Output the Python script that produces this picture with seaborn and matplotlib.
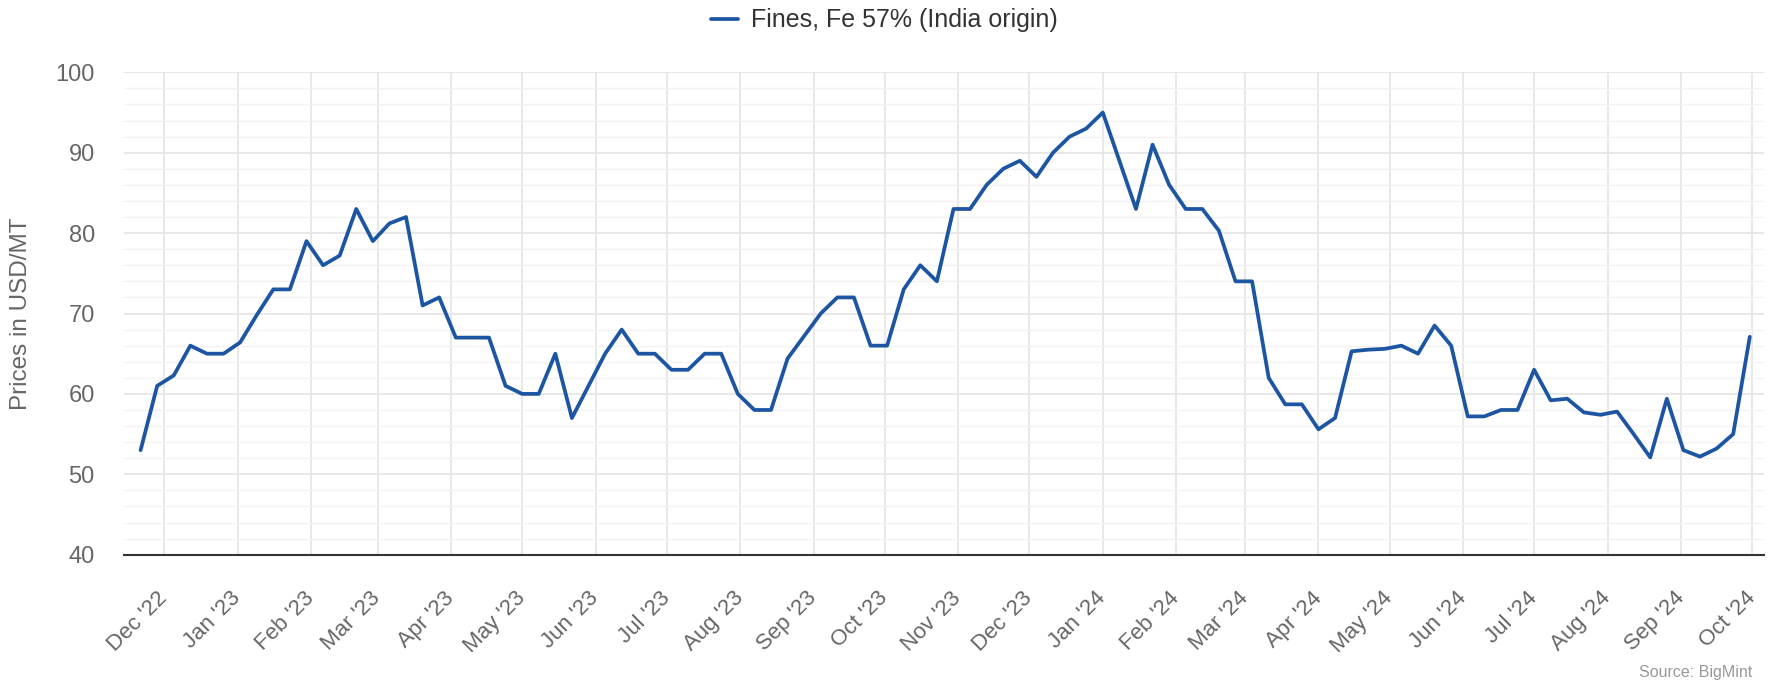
import pandas as pd
import seaborn as sns
import matplotlib.pyplot as plt
import matplotlib.dates as mdates
from matplotlib.ticker import MultipleLocator

# ─────────────────────────────────────────
# DATA  (weekly prices, USD/MT)
# ─────────────────────────────────────────
SERIES_NAME = "Fines, Fe 57% (India origin)"
FIRST_WEEK  = "2022-11-21"

prices = [
    53, 61, 62.3, 66, 65, 65, 66.4, 69.8, 73, 73,
    79, 76, 77.2, 83, 79, 81.2, 82, 71, 72, 67,
    67, 67, 61, 60, 60, 65, 57, 61, 65, 68,
    65, 65, 63, 63, 65, 65, 60, 58, 58, 64.4,
    67.2, 70, 72, 72, 66, 66, 73, 76, 74, 83,
    83, 86, 88, 89, 87, 90, 92, 93, 95, 89,
    83, 91, 86, 83, 83, 80.3, 74, 74, 62, 58.7,
    58.7, 55.6, 57, 65.3, 65.5, 65.6, 66, 65, 68.5, 66,
    57.2, 57.2, 58, 58, 63, 59.2, 59.4, 57.7, 57.4, 57.8,
    55, 52.1, 59.4, 53, 52.2, 53.2, 55, 67.1,
]
week_dates = pd.date_range(FIRST_WEEK, periods=len(prices), freq="7D")

y_major = [40, 50, 60, 70, 80, 90, 100]
x_range = ("2022-11-14", "2024-10-06")

LINE_COLOR = "#1c56a3"

# ─────────────────────────────────────────
# PLOT
# ─────────────────────────────────────────
sns.set_theme(style="white")
plt.rcParams["font.family"] = ["Liberation Sans", "DejaVu Sans"]

df = pd.DataFrame({"date": week_dates, "price": prices, "series": SERIES_NAME})

fig = plt.figure(figsize=(17.83, 6.81), dpi=100)
ax = fig.add_axes([124 / 1783, 1 - 554.7 / 681, 1640 / 1783, 482.4 / 681])

sns.lineplot(data=df, x="date", y="price", hue="series", palette=[LINE_COLOR],
             linewidth=2.7, ax=ax, legend=False)
ax.get_lines()[0].set_solid_joinstyle("round")
ax.get_lines()[0].set_solid_capstyle("round")

ax.set_xlim(pd.Timestamp(x_range[0]), pd.Timestamp(x_range[1]))
ax.set_ylim(y_major[0], y_major[-1])
ax.set_yticks(y_major)
ax.yaxis.set_minor_locator(MultipleLocator(2))

ax.xaxis.set_major_locator(mdates.MonthLocator())
ax.xaxis.set_major_formatter(mdates.DateFormatter("%b '%y"))

ax.grid(axis="x", which="major", color="#e6e6e6", linewidth=1.3)
ax.grid(axis="y", which="major", color="#e6e6e6", linewidth=1.3)
ax.grid(axis="y", which="minor", color="#f2f2f2", linewidth=1.0)
ax.set_axisbelow(True)

for side in ["top", "right", "left"]:
    ax.spines[side].set_visible(False)
ax.spines["bottom"].set_color("#333333")
ax.spines["bottom"].set_linewidth(1.5)

ax.tick_params(axis="x", which="major", length=13, width=1.3, color="#333333",
               pad=16, labelsize=16, labelcolor="#666666")
ax.tick_params(axis="y", which="both", length=0, pad=21, labelsize=17,
               labelcolor="#666666")
for lab in ax.get_xticklabels():
    lab.set_rotation(45)
    lab.set_ha("right")
    lab.set_va("center")
    lab.set_rotation_mode("anchor")

ax.set_xlabel("")
ax.set_ylabel("")
fig.text(21 / 1783, 1 - 313.5 / 681, "Prices in USD/MT", rotation=90,
         ha="center", va="center", fontsize=17.5, color="#666666")

fig.legend(handles=ax.get_lines()[:1], labels=[SERIES_NAME], loc="center",
           bbox_to_anchor=(884 / 1783, 1 - 20.5 / 681), frameon=False,
           fontsize=18, handlelength=1.1, handletextpad=0.5,
           labelcolor="#333333")

fig.text(1752 / 1783, 1 - 672 / 681, "Source: BigMint", ha="right", va="center",
         fontsize=11.5, color="#999999")

plt.savefig("out.png", dpi=100)
